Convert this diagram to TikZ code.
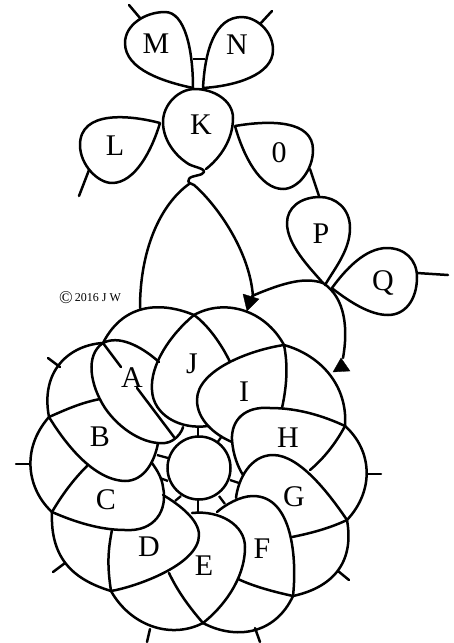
\documentclass[tikz,border=0pt]{standalone}
\usepackage{fontspec}
\setmainfont{Liberation Serif}
\tikzset{
  ln/.style={line width=2.5pt,line cap=round,line join=round,draw=black},
  rung/.style={line width=2.3pt,line cap=butt,draw=black},
  lab/.style={font=\fontsize{30}{32}\selectfont,inner sep=0pt,text=black},
  tip/.style={fill=black,draw=black,line width=0.3pt}
}
\begin{document}
\begin{tikzpicture}[x=1pt,y=-1pt]
\useasboundingbox (0,0) rectangle (454,643);
% outer joints
\coordinate (o1) at (194,315);
\coordinate (o2) at (103,343);
\coordinate (o3) at (49,417);
\coordinate (o4) at (52,512);
\coordinate (o5) at (111,591);
\coordinate (o6) at (203,623);
\coordinate (o7) at (293,596);
\coordinate (o8) at (347,520);
\coordinate (o9) at (345,426);
\coordinate (o10) at (284,345);
% top loops
\draw[ln] (193,88) .. controls (165,82) and (125,70) .. (125,43) .. controls (125,25) and (145,12) .. (165,12) .. controls (185,12) and (193,50) .. (193,88);
\draw[ln] (203,88) .. controls (235,86) and (273,75) .. (273,50) .. controls (273,30) and (255,17) .. (242,17) .. controls (215,17) and (205,50) .. (203,88);
\draw[rung] (193,59) -- (205,59);
\draw[ln] (140,18) -- (129,5);
\draw[ln] (260,24) -- (272,11);
% K and the arch
\draw[ln] (206,169) .. controls (220,158) and (233,140) .. (233,118) .. controls (233,100) and (213,89) .. (195,89) .. controls (178,89) and (163,105) .. (163,122) .. controls (163,140) and (175,155) .. (187,163) .. controls (192,167) and (205,168) .. (204,172) .. controls (203,176) and (191,175) .. (189,179) .. controls (187,183) and (190,183) .. (194,185) .. controls (215,203) and (250,250) .. (253,297);
\draw[ln] (189,184) .. controls (160,205) and (140,250) .. (140,308);
% L
\draw[ln] (160,123) .. controls (130,115) and (80,110) .. (80,145) .. controls (80,165) and (98,183) .. (112,183) .. controls (135,183) and (152,150) .. (160,123);
\draw[ln] (89,170) -- (79,196);
% 0
\draw[ln] (235,126) .. controls (270,120) and (313,120) .. (313,150) .. controls (313,170) and (298,189) .. (283,189) .. controls (260,189) and (243,155) .. (235,126);
\draw[ln] (310,169) -- (319,196);
% P
\draw[ln] (325,285) .. controls (335,268) and (350,250) .. (350,228) .. controls (350,208) and (335,197) .. (320,197) .. controls (300,197) and (287,208) .. (287,223) .. controls (287,245) and (310,268) .. (323,283);
% Q
\draw[ln] (333,289) .. controls (350,302) and (370,315) .. (388,315) .. controls (405,315) and (417,300) .. (417,277) .. controls (417,260) and (405,248) .. (387,248) .. controls (365,248) and (345,270) .. (332,288);
\draw[ln] (417,273) -- (448,275);
% long strands
\draw[ln] (323,283) .. controls (305,277) and (285,282) .. (252,296);
\draw[ln] (323,283) .. controls (346,298) and (348,330) .. (343,358);
\draw[tip] (243,294) -- (259,299) -- (247,311) -- cycle;
\draw[tip] (341,358) -- (350,371) -- (333,372) -- cycle;
% outer scallops
\draw[ln] (o1) .. controls (165,303) and (125,300) .. (o2);
\draw[ln] (o2) .. controls (70,345) and (40,370) .. (o3);
\draw[ln] (o3) .. controls (20,450) and (28,490) .. (o4);
\draw[ln] (o4) .. controls (50,560) and (75,580) .. (o5);
\draw[ln] (o5) .. controls (130,625) and (170,640) .. (o6);
\draw[ln] (o6) .. controls (235,640) and (275,635) .. (o7);
\draw[ln] (o7) .. controls (330,588) and (355,565) .. (o8);
\draw[ln] (o8) .. controls (375,490) and (372,450) .. (o9);
\draw[ln] (o9) .. controls (348,385) and (320,355) .. (o10);
\draw[ln] (o10) .. controls (265,310) and (225,298) .. (o1);
% ticks
\draw[ln] (60,367) -- (48,358);
\draw[ln] (29,464) -- (16,464);
\draw[ln] (65,563) -- (53,572);
\draw[ln] (150,629) -- (147,642);
\draw[ln] (255,628) -- (260,642);
\draw[ln] (338,571) -- (349,580);
\draw[ln] (367,474) -- (381,474);
% centre
\node[draw=black,line width=2.5pt,circle,minimum size=63pt,inner sep=0pt] (ring) at (199,468) {};
% A
\draw[ln] (159,362) .. controls (140,345) and (118,335) .. (o2) .. controls (85,355) and (90,385) .. (105,408) .. controls (120,430) and (145,445) .. (165,443) .. controls (175,442) and (182,432) .. (183,427);
\draw[ln] (o2) -- (121,367);
\draw[ln] (137,388) -- (174,437);
% J
\draw[ln] (o1) .. controls (170,335) and (150,365) .. (152,390) .. controls (153,415) and (180,430) .. (208,426);
\draw[ln] (o1) .. controls (208,325) and (222,345) .. (230,362);
% I
\draw[ln] (o10) .. controls (250,350) and (197,370) .. (197,400) .. controls (197,420) and (215,435) .. (232,442);
\draw[ln] (o10) .. controls (288,365) and (287,385) .. (282,408);
% H
\draw[ln] (o9) .. controls (315,412) and (290,408) .. (270,408) .. controls (245,406) and (231,420) .. (232,440) .. controls (233,455) and (238,467) .. (243,475);
\draw[ln] (o9) .. controls (335,445) and (322,460) .. (310,470);
% G
\draw[ln] (o8) .. controls (330,495) and (300,455) .. (273,455) .. controls (250,455) and (238,480) .. (236,498);
\draw[ln] (o8) .. controls (330,528) and (312,533) .. (292,537);
% F
\draw[ln] (o7) .. controls (297,560) and (293,496) .. (253,496) .. controls (240,496) and (225,505) .. (217,512);
\draw[ln] (o7) .. controls (275,592) and (255,587) .. (238,579);
% E
\draw[ln] (o6) .. controls (222,608) and (245,580) .. (245,547) .. controls (245,525) and (220,510) .. (192,513);
\draw[ln] (o6) .. controls (190,608) and (178,592) .. (169,573);
% D
\draw[ln] (o5) .. controls (135,587) and (199,565) .. (199,535) .. controls (199,520) and (180,505) .. (163,495);
\draw[ln] (o5) .. controls (107,565) and (108,550) .. (112,530);
% C
\draw[ln] (o4) .. controls (75,522) and (100,530) .. (125,530) .. controls (155,532) and (168,510) .. (163,487) .. controls (162,478) and (157,470) .. (152,463);
\draw[ln] (o4) .. controls (62,495) and (73,480) .. (87,466);
% B
\draw[ln] (o3) .. controls (60,435) and (90,480) .. (125,481) .. controls (145,481) and (155,460) .. (158,443);
\draw[ln] (o3) .. controls (65,410) and (80,403) .. (100,399);
% rungs
\draw[rung] (198,427) -- (198,437);
\draw[rung] (222,436) -- (217,443);
\draw[rung] (157,455) -- (168,458);
\draw[rung] (160,478) -- (168,481);
\draw[rung] (181,496) -- (175,501);
\draw[rung] (198,499) -- (198,512);
\draw[rung] (219,496) -- (225,504);
\draw[rung] (230,480) -- (239,483);
% labels
\node[lab] (lM) at (156,44) {M};
\node[lab] (lN) at (237,45) {N};
\node[lab] (lK) at (201,125) {K};
\node[lab] (lL) at (115,146) {L};
\node[lab] (l0) at (279,153) {0};
\node[lab] (lP) at (321,234) {P};
\node[lab] (lQ) at (383,283) {Q};
\node[lab] (lA) at (132,378) {A};
\node[lab] (lJ) at (192,364) {J};
\node[lab] (lI) at (244,392) {I};
\node[lab] (lH) at (288,438) {H};
\node[lab] (lG) at (294,497) {G};
\node[lab] (lF) at (262,549) {F};
\node[lab] (lE) at (204,566) {E};
\node[lab] (lD) at (149,547) {D};
\node[lab] (lC) at (106,500) {C};
\node[lab] (lB) at (100,437) {B};
\node[inner sep=0pt,anchor=west] (copy) at (59,298) {\fontsize{18}{18}\selectfont\raisebox{-2pt}{©}\fontsize{12}{12}\selectfont\,2016 J W};
\end{tikzpicture}
\end{document}
